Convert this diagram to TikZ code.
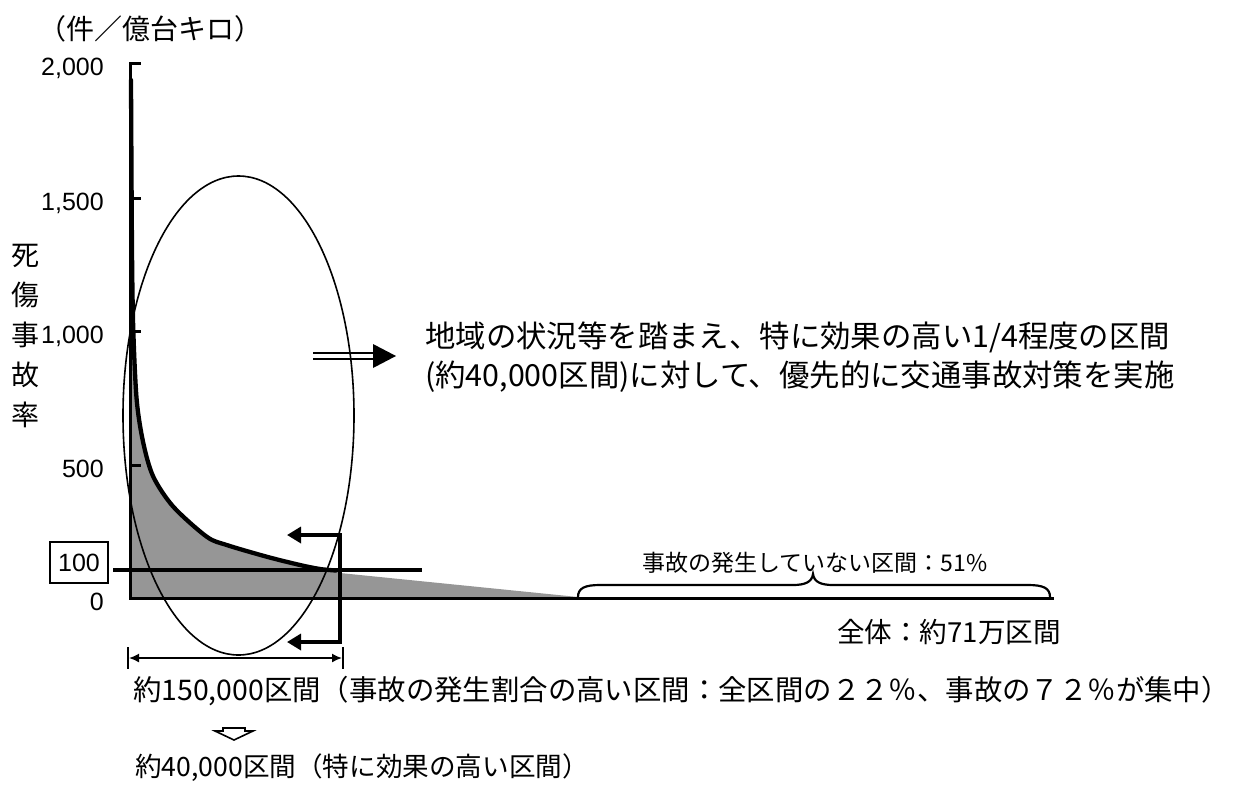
\documentclass[tikz,border=0pt]{standalone}
\usepackage{fontspec}
\setmainfont{Noto Sans CJK JP}
\newfontfamily\arialf{Liberation Sans}
\usetikzlibrary{arrows.meta}
\definecolor{fillg}{RGB}{150,150,150}
\begin{document}
\begin{tikzpicture}[x=1pt,y=-1pt,
  jp/.style={inner sep=0pt, font=\fontsize{28}{30}\selectfont},
  ticklab/.style={inner sep=0pt, anchor=base east, font=\arialf\fontsize{25}{27}\selectfont},
  axisline/.style={line width=3pt},
  bold/.style={line width=3.4pt},
  thinline/.style={line width=1.6pt}]
\useasboundingbox (0,0) rectangle (1239,785);

% gray area under the curve
\def\curvepts{(131,80) (132,250) (133.3,330) (136.7,400) (143.3,443) (153.3,476.7) (173.3,506.7) (206.7,536.7) (226.7,545) (266.7,556.7) (300,565) (320,569) (336,570.5)}
\fill[fillg] (130,598) -- (130,80) -- plot[smooth, tension=0.5] coordinates {\curvepts} -- (340,573) -- (578,597) -- cycle;

% 100 line
\draw[bold] (113,570) -- (422,570);

% curve
\draw[line width=4.3pt, line join=round, line cap=round] plot[smooth, tension=0.5] coordinates {\curvepts};

% axes
\draw[axisline] (130,62) -- (130,598) -- (1054,598);
\foreach \yy in {63,198,331,465,598} \draw[axisline] (130,\yy) -- (141,\yy);

% tick labels
\node[ticklab] (t2000) at (104,75) {2,000};
\node[ticklab] (t1500) at (104,210) {1,500};
\node[ticklab] (t1000) at (104,343) {1,000};
\node[ticklab] (t500) at (104,477) {500};
\node[ticklab] (t0) at (104,610) {0};
\node[draw, line width=1.8pt, minimum width=58pt, minimum height=41pt, inner sep=0pt, font=\arialf\fontsize{25}{27}\selectfont] (t100) at (79,562.5) {100};

% axis titles
\node[jp] (unit) at (150,29) {（件／億台キロ）};
\node[inner sep=0pt, align=center, font=\fontsize{28}{40}\selectfont] (ylab) at (26,336) {死\\傷\\事\\故\\率};

% ellipse
\draw[thinline] (238.5,415.5) ellipse [x radius=115.5pt, y radius=239.5pt];

% bracket with arrows
\draw[bold, {Triangle[length=14pt,width=16pt]}-{Triangle[length=14pt,width=16pt]}] (287,535) -- (340,535) -- (340,642) -- (287,642);

% dimension line
\draw[thinline, {Latex[length=10pt,width=9pt]}-{Latex[length=10pt,width=9pt]}] (129,658) -- (342,658);
\draw[line width=2.8pt] (128,647) -- (128,669);
\draw[line width=2.8pt] (343,647) -- (343,669);

% double arrow
\draw[line width=2.2pt] (313,353) -- (375,353);
\draw[line width=2.2pt] (313,359) -- (375,359);
\fill (373,344) -- (396,356) -- (373,368) -- cycle;

% right text
\node[inner sep=0pt, anchor=west, align=left, font=\fontsize{30.4}{39}\selectfont] (note) at (425,357) {地域の状況等を踏まえ、特に効果の高い1/4程度の区間\\(約40,000区間)に対して、優先的に交通事故対策を実施};

% brace
\draw[line width=2.2pt] (578,597) .. controls (578,588) and (585,585) .. (600,585) -- (793,585) .. controls (805,585) and (812,582) .. (813,574) .. controls (814,582) and (821,585) .. (833,585) -- (1028,585) .. controls (1043,585) and (1050,588) .. (1050,597);
\node[inner sep=0pt, font=\fontsize{23}{25}\selectfont] (nozero) at (815,563) {事故の発生していない区間：51\%};

\node[inner sep=0pt, font=\fontsize{27.6}{29}\selectfont] (total) at (949,632) {全体：約71万区間};

% bottom texts
\node[inner sep=0pt, anchor=west, font=\fontsize{28.4}{30}\selectfont] (b1) at (133,691) {約150,000区間（事故の発生割合の高い区間：全区間の２２％、事故の７２％が集中\makebox[0.5em][l]{）}};
\draw[line width=1.6pt, fill=white, line join=miter] (223,728) -- (245,728) -- (245,731) -- (253,731) -- (234,740) -- (215,731) -- (223,731) -- cycle;
\node[inner sep=0pt, anchor=west, font=\fontsize{26.6}{29}\selectfont] (b2) at (135,768) {約40,000区間（特に効果の高い区間）};
\end{tikzpicture}
\end{document}
